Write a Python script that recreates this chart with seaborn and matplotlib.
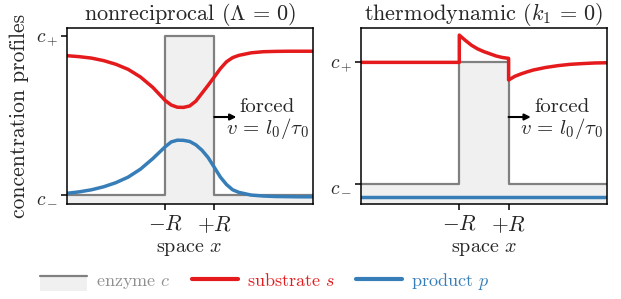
import matplotlib
matplotlib.use("Agg")
import matplotlib.pyplot as plt
import seaborn as sns
from matplotlib.lines import Line2D
from matplotlib.patches import Rectangle
from matplotlib.legend_handler import HandlerBase

# profiler (x i enheter av R, c_- = 0, c_+ = 1)
x_left = [-5, -4.5, -4, -3.5, -3, -2.5, -2, -1.5, -1.25, -1, -0.75, -0.5, -0.25, 0,
          0.25, 0.5, 0.75, 1, 1.25, 1.5, 1.75, 2, 2.5, 3, 3.5, 4, 4.5, 5]
s_left = [0.876, 0.870, 0.861, 0.845, 0.822, 0.790, 0.742, 0.677, 0.636, 0.595, 0.566,
          0.552, 0.551, 0.560, 0.590, 0.640, 0.690, 0.742, 0.795, 0.838, 0.864, 0.878,
          0.894, 0.901, 0.903, 0.904, 0.904, 0.904]
p_left = [0.011, 0.020, 0.033, 0.052, 0.078, 0.113, 0.163, 0.229, 0.266, 0.303, 0.334,
          0.345, 0.344, 0.337, 0.316, 0.282, 0.236, 0.175, 0.113, 0.066, 0.033, 0.017,
          0.000, -0.006, -0.009, -0.010, -0.011, -0.011]

x_right_s = [-5, -3, -1, -1, -0.75, -0.5, -0.25, 0, 0.25, 0.5, 0.75, 1,
             1, 1.25, 1.5, 1.75, 2, 2.5, 3, 3.5, 4, 4.5, 5]
s_right = [1.0, 1.0, 1.0, 1.224, 1.18, 1.14, 1.11, 1.088, 1.07, 1.052, 1.04, 1.033,
           0.855, 0.885, 0.905, 0.922, 0.937, 0.958, 0.973, 0.984, 0.990, 0.995, 0.997]
x_right_p = [-5, 5]
p_right = [-0.109, -0.109]

x_enz = [-5, -1, -1, 1, 1, 5]
c_enz = [0, 0, 1, 1, 0, 0]

titles = [r"nonreciprocal ($\Lambda\,=\,0$)", r"thermodynamic ($k_1\,=\,0$)"]
ylims = [(-0.058, 1.048), (-0.167, 1.28)]

red = "#e41a1c"
blue = "#377eb8"
gray = "#808080"
fill = "#f0f0f0"

sns.set_style("ticks")
plt.rcParams["font.family"] = ["cmr10", "DejaVu Serif"]
plt.rcParams["mathtext.fontset"] = "cm"
plt.rcParams["axes.formatter.use_mathtext"] = True
plt.rcParams["font.size"] = 13

fig = plt.figure(figsize=(6.21, 2.99), dpi=100)
ax1 = fig.add_axes([0.1074, 0.3167, 0.396, 0.5886])
ax2 = fig.add_axes([0.5808, 0.3167, 0.397, 0.5886])

curves = [(x_left, s_left, x_left, p_left), (x_right_s, s_right, x_right_p, p_right)]

for ax, (xs, s, xp, p), title, yl in zip([ax1, ax2], curves, titles, ylims):
    ax.fill_between(x_enz, yl[0], c_enz, color=fill, lw=0, zorder=1)
    sns.lineplot(x=x_enz, y=c_enz, ax=ax, color=gray, lw=1.6, estimator=None, sort=False, zorder=2)
    sns.lineplot(x=xp, y=p, ax=ax, color=blue, lw=2.5, estimator=None, sort=False, zorder=3)
    sns.lineplot(x=xs, y=s, ax=ax, color=red, lw=2.5, estimator=None, sort=False, zorder=4)
    ax.set_xlim(-5, 5)
    ax.set_ylim(*yl)
    ax.set_xticks([-1, 1])
    ax.set_xticklabels([r"$-R$", r"$+R$"], fontsize=15.5)
    ax.set_yticks([0, 1])
    ax.set_yticklabels([r"$c_-$", r"$c_+$"], fontsize=14)
    ax.set_xlabel(r"space $x$", fontsize=14.5, labelpad=4)
    ax.set_ylabel("")
    ax.set_title(title, fontsize=16, pad=5)
    for sp in ax.spines.values():
        sp.set_visible(True)
        sp.set_linewidth(1.1)
        sp.set_color("black")
        sp.set_zorder(5)
    ax.tick_params(length=4, width=1.1, color="black", pad=2)
    ax.tick_params(axis="x", pad=3)
    # pil för den drivna rörelsen
    ax.annotate("", xy=(0.69, 0.496), xytext=(0.60, 0.496), xycoords="axes fraction",
                arrowprops=dict(arrowstyle="-|>", color="black", lw=1.5, mutation_scale=9,
                                shrinkA=0, shrinkB=0))
    ax.text(0.815, 0.48, "forced\n" + r"$v\,=\,l_0/\tau_0$", transform=ax.transAxes,
            ha="center", va="center", fontsize=15, linespacing=1.0, zorder=6)

ax1.set_ylabel("concentration profiles", fontsize=15.5, labelpad=5)


class EnzymeHandler(HandlerBase):
    def create_artists(self, legend, orig, xdescent, ydescent, width, height, fontsize, trans):
        mid = height / 2 - ydescent + 2
        rect = Rectangle((-xdescent, -ydescent - height * 0.45), width, mid + ydescent + height * 0.45,
                         facecolor=fill, edgecolor="none", transform=trans)
        line = Line2D([-xdescent, -xdescent + width], [mid, mid], color=gray, lw=1.6, transform=trans)
        return [rect, line]


handles = [Line2D([], [], color=gray), Line2D([], [], color=red, lw=3.0),
           Line2D([], [], color=blue, lw=3.0)]
labels = [r"enzyme $c$", r"substrate $s$", r"product $p$"]
leg = fig.legend(handles, labels, loc="center left", bbox_to_anchor=(0.039, 0.06), ncol=3,
                 frameon=False, handlelength=2.55, handletextpad=0.5, columnspacing=1.2,
                 handler_map={handles[0]: EnzymeHandler()})
for t, col in zip(leg.get_texts(), ["#909090", red, blue]):
    t.set_color(col)

fig.savefig("out.png", dpi=100)
